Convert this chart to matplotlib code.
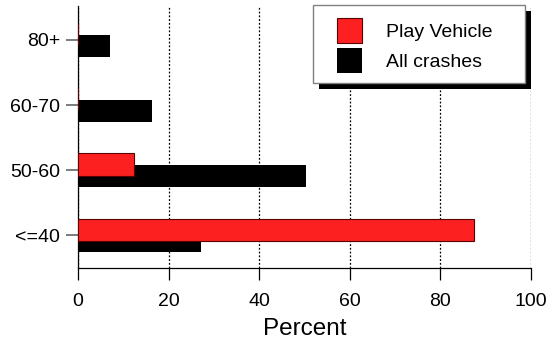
import matplotlib.pyplot as plt
import numpy as np
from matplotlib.patches import Rectangle
from matplotlib.transforms import IdentityTransform

plt.rcParams["font.family"] = ["Liberation Sans", "DejaVu Sans"]

categories = ["<=40", "50-60", "60-70", "80+"]
play_vehicle = [87.5, 12.4, 0.0, 0.0]
all_crashes = [27.2, 50.3, 16.3, 7.1]

W, H = 550, 343
fig = plt.figure(figsize=(5.5, 3.43), dpi=100)
ax = fig.add_axes([78 / W, 1 - 268 / H, (531 - 78) / W, (268 - 6) / H])

y = np.arange(len(categories))
h = 0.34
off = 0.088
red = "#fc2020"

ax.barh(y - off, all_crashes, h, color="black", edgecolor="none", zorder=2, label="All crashes")
ax.barh(y + off, play_vehicle, h, color=red, edgecolor="#5a0000", linewidth=0.8, zorder=3,
        label="Play Vehicle")

ax.set_xlim(0, 100)
ax.set_ylim(-0.5, 3.52)
ax.set_xticks([0, 20, 40, 60, 80, 100])
ax.set_yticks(y)
ax.set_yticklabels(categories)
ax.tick_params(axis="y", length=8.6, width=1.2, color="#666666", pad=4.3, labelsize=14)
ax.tick_params(axis="x", length=8.6, width=0.9, color="black", pad=9.5, labelsize=14)
ax.set_xlabel("Percent", fontsize=17.5, labelpad=6)

for s in ["top", "right"]:
    ax.spines[s].set_visible(False)
for s in ["left", "bottom"]:
    ax.spines[s].set_linewidth(0.9)
ax.grid(axis="x", linestyle=(0, (1.5, 1.5)), color="black", linewidth=0.9, zorder=0)
ax.set_axisbelow(True)

# legend box with hard black shadow
x0, y0, x1, y1 = 313, 5, 525, 83
shadow = Rectangle((x0 + 6, H - y1 - 6), x1 - x0, y1 - y0, transform=IdentityTransform(),
                   facecolor="black", edgecolor="none", zorder=6, clip_on=False)
frame = Rectangle((x0, H - y1), x1 - x0, y1 - y0, transform=IdentityTransform(),
                  facecolor="white", edgecolor="#808080", linewidth=1, zorder=7, clip_on=False)
ax.add_artist(shadow)
ax.add_artist(frame)

handles, labels = ax.get_legend_handles_labels()
leg = ax.legend(handles[::-1], labels[::-1], loc="upper left",
                bbox_to_anchor=(337 / W, 1 - 18 / H), bbox_transform=fig.transFigure,
                frameon=False, borderpad=0, borderaxespad=0, fontsize=14,
                handlelength=1.29, handleheight=1.6, handletextpad=1.24, labelspacing=0.26)
leg.set_zorder(8)

fig.savefig("out.png", dpi=100)
